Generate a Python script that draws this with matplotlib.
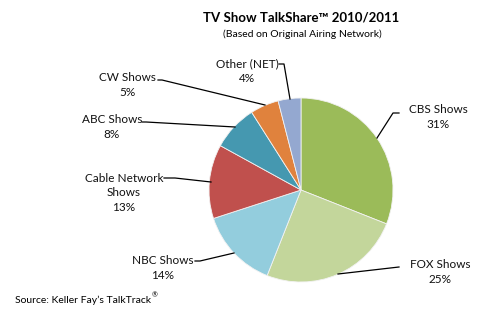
import matplotlib.pyplot as plt

labels = ["CBS Shows", "FOX Shows", "NBC Shows", "Cable Network\nShows", "ABC Shows", "CW Shows", "Other (NET)"]
shares = [31, 25, 14, 13, 8, 5, 4]
colors = ["#9BBB59", "#C3D69B", "#93CDDD", "#C0504D", "#4598B0", "#E0823D", "#94A8D0"]

# label text centre, leader line points (pixel coords, y down)
label_pos = [(438, 117), (440, 272), (163, 268), (124, 193), (112, 127), (127, 85), (247, 71)]
leaders = [
    [(377, 138), (393, 113), (399, 113)],
    [(338, 274), (399, 267)],
    [(234, 253), (200, 261), (195, 261)],
    [(211, 182), (175, 178), (164, 178)],
    [(235, 127), (146, 122), (142, 122)],
    [(265, 105), (162, 80), (158, 80)],
    [(290, 99), (284, 64), (279, 64)],
]

W, H = 484, 328
fnt = "Lato"

fig = plt.figure(figsize=(W / 100, H / 100), dpi=100)
ax = fig.add_axes([0, 0, 1, 1])

def fy(y):
    return H - y

ax.pie(shares, colors=colors, center=(301, fy(190)), radius=92, startangle=90,
       counterclock=False, wedgeprops=dict(edgecolor="#f2f2f2", linewidth=0.6), frame=True)
ax.set_xlim(0, W)
ax.set_ylim(0, H)
ax.set_aspect("equal")
ax.axis("off")

for lab, v, (x, y), pts in zip(labels, shares, label_pos, leaders):
    ax.text(x, fy(y), "%s\n%d%%" % (lab, v), ha="center", va="center", fontsize=8.5,
            family=fnt, linespacing=1.35, color="#111111")
    ax.plot([p[0] for p in pts], [fy(p[1]) for p in pts], color="black", lw=0.9)

ax.text(301, fy(17), "TV Show TalkShare\u2122 2010/2011", ha="center", va="center",
        fontsize=9.5, fontweight="bold", family=fnt)
ax.text(302, fy(34), "(Based on Original Airing Network)", ha="center", va="center",
        fontsize=7.5, family=fnt)
t = ax.text(15, fy(300), "Source: Keller Fay\u2019s TalkTrack", ha="left", va="center",
            fontsize=7.5, family=fnt)
ax.annotate("\u00ae", xy=(1, 1), xycoords=t, xytext=(0.5, 2.5), textcoords="offset points",
            ha="left", va="top", fontsize=5, family=fnt)

fig.savefig("out.png", dpi=100, facecolor="white")
